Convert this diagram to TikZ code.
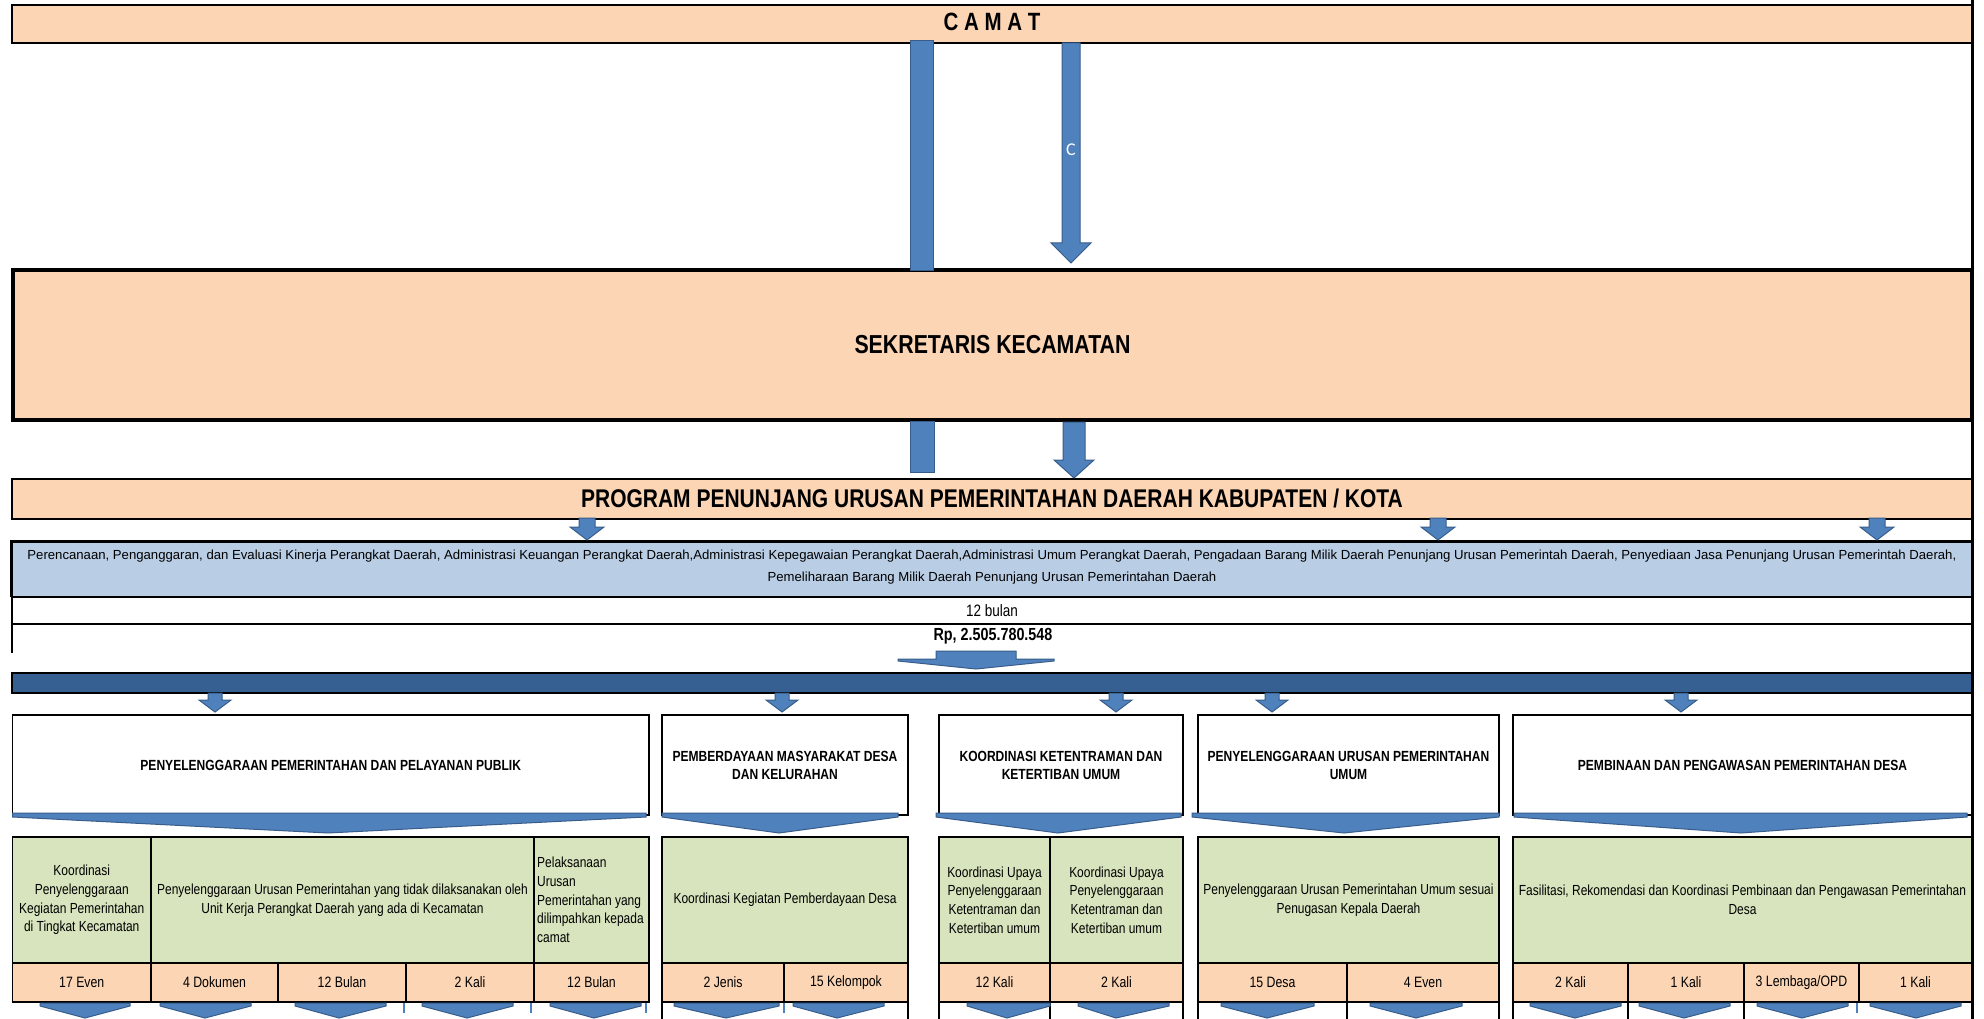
\documentclass[tikz,border=0pt]{standalone}
\usepackage{fontspec}
\setmainfont{Liberation Sans}
\newfontfamily\nar[FakeStretch=0.82]{Liberation Sans}
\newfontfamily\calfont{Carlito}
\usetikzlibrary{calc}
\definecolor{peach}{HTML}{FCD5B5}
\definecolor{lblue}{HTML}{B9CDE5}
\definecolor{lgreen}{HTML}{D7E4BD}
\definecolor{ablue}{HTML}{4F81BD}
\definecolor{ablueb}{HTML}{385D8A}
\definecolor{dblue}{HTML}{376092}

% style, x1, y1, x2, y2, node options, name, text
\newcommand\cellbox[8]{%
  \draw[#1] (#2,#3) rectangle (#4,#5);
  \node[#6] (#7) at ({(#2+#4)/2},{(#3+#5)/2}) {#8};}
% cx, ytop, yhead, ytip, shaft half, head half
\newcommand\dnarrow[6]{%
  \filldraw[barrow] ({#1-#5},#2) -- ({#1+#5},#2) -- ({#1+#5},#3) -- ({#1+#6},#3) -- (#1,#4) -- ({#1-#6},#3) -- ({#1-#5},#3) -- cycle;}
% x1, x2, xtip, ytop, yside, ytip
\newcommand\flatarrow[6]{%
  \filldraw[barrow] (#1,#4) -- (#2,#4) -- (#2,#5) -- (#3,#6) -- (#1,#5) -- cycle;}

\begin{document}
\begin{tikzpicture}[x=1pt,y=-1pt,
  barrow/.style={fill=ablue, draw=ablueb, line width=1pt, line join=miter},
  bx/.style={draw=black, line width=1.5pt},
  txt/.style={inner sep=0pt, align=center, text=black},
  ttl/.style={txt, font=\nar\bfseries\fontsize{25.6}{30}\selectfont},
  desc/.style={txt, font=\fontsize{13.15}{22}\selectfont},
  mid/.style={txt, font=\nar\fontsize{16.5}{20}\selectfont},
  midb/.style={txt, font=\nar\bfseries\fontsize{17.5}{20}\selectfont},
  cat/.style={txt, font=\nar\bfseries\fontsize{14.7}{18}\selectfont},
  grn/.style={txt, font=\nar\fontsize{14.6}{18.7}\selectfont},
  pch/.style={txt, font=\nar\fontsize{15}{18}\selectfont},
  gcell/.style={bx, fill=lgreen},
  pcell/.style={bx, fill=peach},
  wcell/.style={bx, fill=white, line width=1.8pt},
]
\useasboundingbox (0,0) rectangle (1984,1019);
\fill[white] (0,0) rectangle (1984,1019);

% ---------- top boxes ----------
\cellbox{bx,fill=peach}{12}{5}{1972}{43}{ttl,font=\nar\bfseries\fontsize{25}{30}\selectfont,yshift=2pt}{camat}{C A M A T}
\cellbox{draw=black,line width=4pt,fill=peach}{13}{270}{1972}{420}{ttl,font=\nar\bfseries\fontsize{26}{30}\selectfont}{sekcam}{SEKRETARIS KECAMATAN}
\cellbox{bx,fill=peach}{12}{479}{1972}{519}{ttl,yshift=1pt}{program}{PROGRAM PENUNJANG URUSAN PEMERINTAHAN DAERAH KABUPATEN / KOTA}
\cellbox{bx,fill=lblue}{12}{541}{1972}{597}{desc,yshift=1.5pt}{kegiatan}{Perencanaan, Penganggaran, dan Evaluasi Kinerja Perangkat Daerah, Administrasi Keuangan Perangkat Daerah,Administrasi Kepegawaian Perangkat Daerah,Administrasi Umum Perangkat Daerah, Pengadaan Barang Milik Daerah Penunjang Urusan Pemerintah Daerah, Penyediaan Jasa Penunjang Urusan Pemerintah Daerah,\\Pemeliharaan Barang Milik Daerah Penunjang Urusan Pemerintahan Daerah}
\draw[line width=3pt] (11,597) -- (11,541) -- (1972,541);
\cellbox{bx,fill=white}{12}{597}{1972}{624}{mid}{waktu}{12 bulan}
\draw[bx] (12,653) -- (12,624) -- (1972,624) -- (1972,653);
\node[midb] (dana) at (993,636) {Rp, 2.505.780.548};
\cellbox{bx,fill=dblue}{12}{673}{1972}{693}{txt}{bar}{}
\draw[line width=3.5pt] (1972.5,0) -- (1972.5,1019);

% ---------- arrows top ----------
\filldraw[barrow] (910,41) rectangle (933,270);
\dnarrow{1071}{43}{243}{263}{9}{20}
\node[text=white, inner sep=0pt, font=\calfont\fontsize{18}{20}\selectfont] (clabel) at (1071,150) {C};
\filldraw[barrow] (910,421) rectangle (934,472);
\dnarrow{1074}{422}{460}{478}{11}{20}
\dnarrow{587}{518}{527}{540}{8}{17}
\dnarrow{1438}{518}{527}{540}{8}{17}
\dnarrow{1877}{518}{527}{540}{8}{17}
\filldraw[barrow] (936,651) -- (1016,651) -- (1016,659) -- (1054,659) -- (1054,661) -- (976,669) -- (898,661) -- (898,659) -- (936,659) -- cycle;
\foreach \cx in {215,782,1116,1272,1681}{\dnarrow{\cx}{693}{700}{712}{7}{16}}

% ---------- category boxes ----------
\cellbox{wcell}{12.5}{715}{649}{815}{cat}{c1}{PENYELENGGARAAN PEMERINTAHAN DAN PELAYANAN PUBLIK}
\cellbox{wcell}{662}{715}{908}{815}{cat}{c2}{PEMBERDAYAAN MASYARAKAT DESA\\DAN KELURAHAN}
\cellbox{wcell}{939}{715}{1183}{815}{cat}{c3}{KOORDINASI KETENTRAMAN DAN\\KETERTIBAN UMUM}
\cellbox{wcell}{1198}{715}{1499}{815}{cat}{c4}{PENYELENGGARAAN URUSAN PEMERINTAHAN\\UMUM}
\cellbox{wcell}{1513}{715}{1972}{815}{cat}{c5}{PEMBINAAN DAN PENGAWASAN PEMERINTAHAN DESA}

\flatarrow{12.5}{646}{328}{813}{817}{833}
\flatarrow{662}{898}{779}{813}{817}{833}
\flatarrow{936}{1181}{1058}{813}{817}{833}
\flatarrow{1192}{1499}{1344}{813}{817}{833}
\flatarrow{1514}{1967}{1741}{813}{817}{833}

% ---------- green row ----------
\cellbox{gcell}{12.5}{837}{151}{963}{grn}{g1}{Koordinasi\\Penyelenggaraan\\Kegiatan Pemerintahan\\di Tingkat Kecamatan}
\cellbox{gcell}{151}{837}{534}{963}{grn}{g2}{Penyelenggaraan Urusan Pemerintahan yang tidak dilaksanakan oleh\\Unit Kerja Perangkat Daerah yang ada di Kecamatan}
\draw[gcell] (534,837) rectangle (649,963);
\node[grn, align=left, anchor=west] (g3) at (537,900) {Pelaksanaan\\Urusan\\Pemerintahan yang\\dilimpahkan kepada\\camat};
\cellbox{gcell}{662}{837}{908}{963}{grn}{g4}{Koordinasi Kegiatan Pemberdayaan Desa}
\cellbox{gcell}{939}{837}{1050}{963}{grn}{g5}{Koordinasi Upaya\\Penyelenggaraan\\Ketentraman dan\\Ketertiban umum}
\cellbox{gcell}{1050}{837}{1183}{963}{grn}{g6}{Koordinasi Upaya\\Penyelenggaraan\\Ketentraman dan\\Ketertiban umum}
\cellbox{gcell}{1198}{837}{1499}{963}{grn}{g7}{Penyelenggaraan Urusan Pemerintahan Umum sesuai\\Penugasan Kepala Daerah}
\cellbox{gcell}{1513}{837}{1972}{963}{grn}{g8}{Fasilitasi, Rekomendasi dan Koordinasi Pembinaan dan Pengawasan Pemerintahan\\Desa}

% ---------- peach row ----------
\cellbox{pcell}{12.5}{963}{151}{1002}{pch}{p1}{17 Even}
\cellbox{pcell}{151}{963}{278}{1002}{pch}{p2}{4 Dokumen}
\cellbox{pcell}{278}{963}{406}{1002}{pch}{p3}{12 Bulan}
\cellbox{pcell}{406}{963}{534}{1002}{pch}{p4}{2 Kali}
\cellbox{pcell}{534}{963}{649}{1002}{pch}{p5}{12 Bulan}
\cellbox{pcell}{662}{963}{784}{1002}{pch}{p6}{2 Jenis}
\cellbox{pcell}{784}{963}{908}{1002}{pch}{p7}{15 Kelompok}
\cellbox{pcell}{939}{963}{1050}{1002}{pch}{p8}{12 Kali}
\cellbox{pcell}{1050}{963}{1183}{1002}{pch}{p9}{2 Kali}
\cellbox{pcell}{1198}{963}{1347}{1002}{pch}{p10}{15 Desa}
\cellbox{pcell}{1347}{963}{1499}{1002}{pch}{p11}{4 Even}
\cellbox{pcell}{1513}{963}{1628}{1002}{pch}{p12}{2 Kali}
\cellbox{pcell}{1628}{963}{1744}{1002}{pch}{p13}{1 Kali}
\cellbox{pcell}{1744}{963}{1859}{1002}{pch}{p14}{3 Lembaga/OPD}
\cellbox{pcell}{1859}{963}{1972}{1002}{pch}{p15}{1 Kali}

% ---------- bottom row ----------
\foreach \x in {662,908,939,1050,1183,1198,1347,1499,1513,1628,1744}{\draw[bx] (\x,1002) -- (\x,1022);}
\foreach \x in {404,531,646,784,1857}{\draw[ablue, line width=2pt] (\x,1003) -- (\x,1013);}
\foreach \a/\b/\c in {40/130/85,160/251/205,295/386/339,422/513/467,550/641/594,674/779/726,793/884/837,967/1050/1007,1078/1169/1116,1221/1314/1267,1370/1462/1416,1530/1621/1575,1639/1730/1684,1757/1848/1802,1870/1961/1916}{\flatarrow{\a}{\b}{\c}{1003}{1006}{1018}}
\end{tikzpicture}
\end{document}
